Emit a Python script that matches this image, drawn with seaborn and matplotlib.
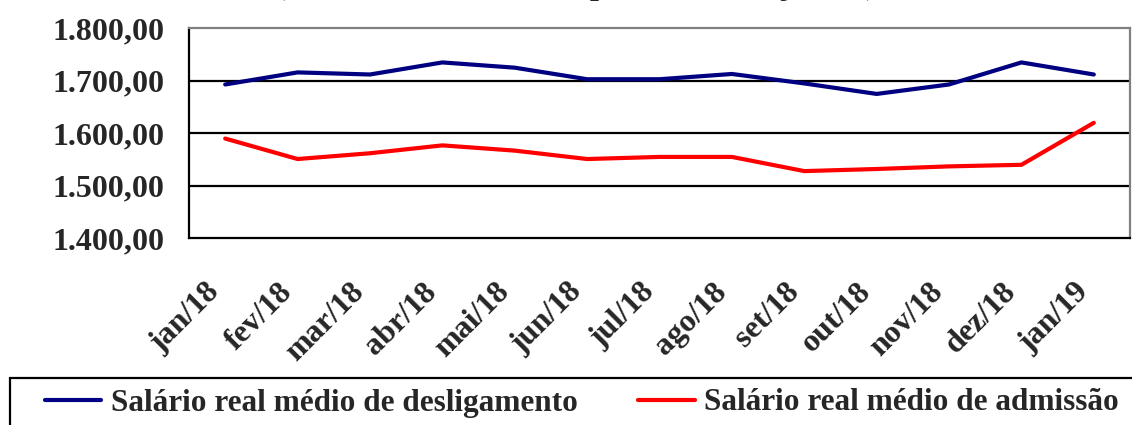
import numpy as np
import pandas as pd
import matplotlib
matplotlib.use("Agg")
import matplotlib.pyplot as plt
import matplotlib.transforms as mtransforms
from matplotlib.patches import Rectangle
from matplotlib.ticker import FuncFormatter
import seaborn as sns

meses = ["jan/18", "fev/18", "mar/18", "abr/18", "mai/18", "jun/18", "jul/18",
         "ago/18", "set/18", "out/18", "nov/18", "dez/18", "jan/19"]
desligamento = [1693, 1716, 1712, 1735, 1725, 1703, 1703, 1713, 1695, 1675, 1693, 1735, 1712]
admissao = [1590, 1551, 1562, 1577, 1567, 1551, 1555, 1555, 1528, 1532, 1537, 1540, 1620]
nome_desl = "Salário real médio de desligamento"
nome_adm = "Salário real médio de admissão"
titulo = "(Valores deflacionados pelo INPC de jan/19)"

df = pd.DataFrame({
    "mes": pd.Categorical(meses * 2, categories=meses, ordered=True),
    "valor": desligamento + admissao,
    "serie": [nome_desl] * len(meses) + [nome_adm] * len(meses),
})
df["pos"] = df["mes"].cat.codes

sns.set_style("white")
plt.rcParams["font.family"] = ["Liberation Serif", "DejaVu Serif"]
plt.rcParams["font.weight"] = "bold"
fs = 23
fs_leg = 22.5

fig = plt.figure(figsize=(11.32, 4.25), dpi=100)
ax = fig.add_axes([189 / 1132, 1 - 238.3 / 425, (1130 - 189) / 1132, 210 / 425])

sns.lineplot(data=df, x="pos", y="valor", hue="serie", sort=False,
             palette={nome_desl: "#000080", nome_adm: "#ff0000"},
             linewidth=3, ax=ax)

ax.set_xlim(-0.5, len(meses) - 0.5)
ax.set_ylim(1400, 1800)
ax.set_yticks([1400, 1500, 1600, 1700, 1800])
ax.yaxis.set_major_formatter(FuncFormatter(
    lambda v, p: f"{v:,.2f}".replace(",", "X").replace(".", ",").replace("X", ".")))
ax.set_xticks(range(len(meses)))
ax.set_xticklabels(meses, rotation=45, ha="right", va="top", rotation_mode="anchor")
ax.set_xticks(np.arange(-0.5, len(meses), 1), minor=True)
ax.tick_params(axis="x", which="major", length=0, pad=28, labelsize=fs)
ax.tick_params(axis="x", which="minor", length=8, width=1.6, color="black", direction="out")
ax.tick_params(axis="y", length=7.5, width=1.6, color="black", direction="out",
               pad=10, labelsize=fs)
for lab in ax.get_xticklabels():
    lab.set_fontweight("bold")
    lab.set_transform(lab.get_transform() +
                      mtransforms.ScaledTranslation(-0.2, 0, fig.dpi_scale_trans))
for lab in ax.get_yticklabels():
    lab.set_fontweight("bold")

for v in [1500, 1600, 1700]:
    ax.axhline(v, color="black", linewidth=1.6, zorder=1)
ax.spines["left"].set_color("black")
ax.spines["left"].set_linewidth(1.6)
ax.spines["bottom"].set_color("black")
ax.spines["bottom"].set_linewidth(1.6)
ax.spines["top"].set_color("#808080")
ax.spines["top"].set_linewidth(1.6)
ax.spines["right"].set_color("#808080")
ax.spines["right"].set_linewidth(1.6)
ax.set_xlabel("")
ax.set_ylabel("")

# caixa da legenda (cortada pela borda da figura, como no original)
fig.patches.append(Rectangle((10 / 1132, -0.1), 1.1, 1 - 378 / 425 + 0.1,
                             transform=fig.transFigure, fill=False,
                             edgecolor="black", linewidth=1.6))

handles, labels = ax.get_legend_handles_labels()
ax.get_legend().remove()
leg = fig.legend(handles, labels, loc="center left", bbox_to_anchor=(45 / 1132, 1 - 403 / 425),
                 ncol=2, frameon=False, borderaxespad=0, borderpad=0,
                 handlelength=1.8, handletextpad=0.3, columnspacing=1.95,
                 prop={"size": fs_leg, "weight": "bold"})
for line in leg.get_lines():
    line.set_linewidth(3)

fig.text(275 / 1132, 1 + 6 / 425, titulo, ha="left", va="baseline",
         fontsize=fs, fontweight="bold")

fig.savefig("out.png", dpi=100)
